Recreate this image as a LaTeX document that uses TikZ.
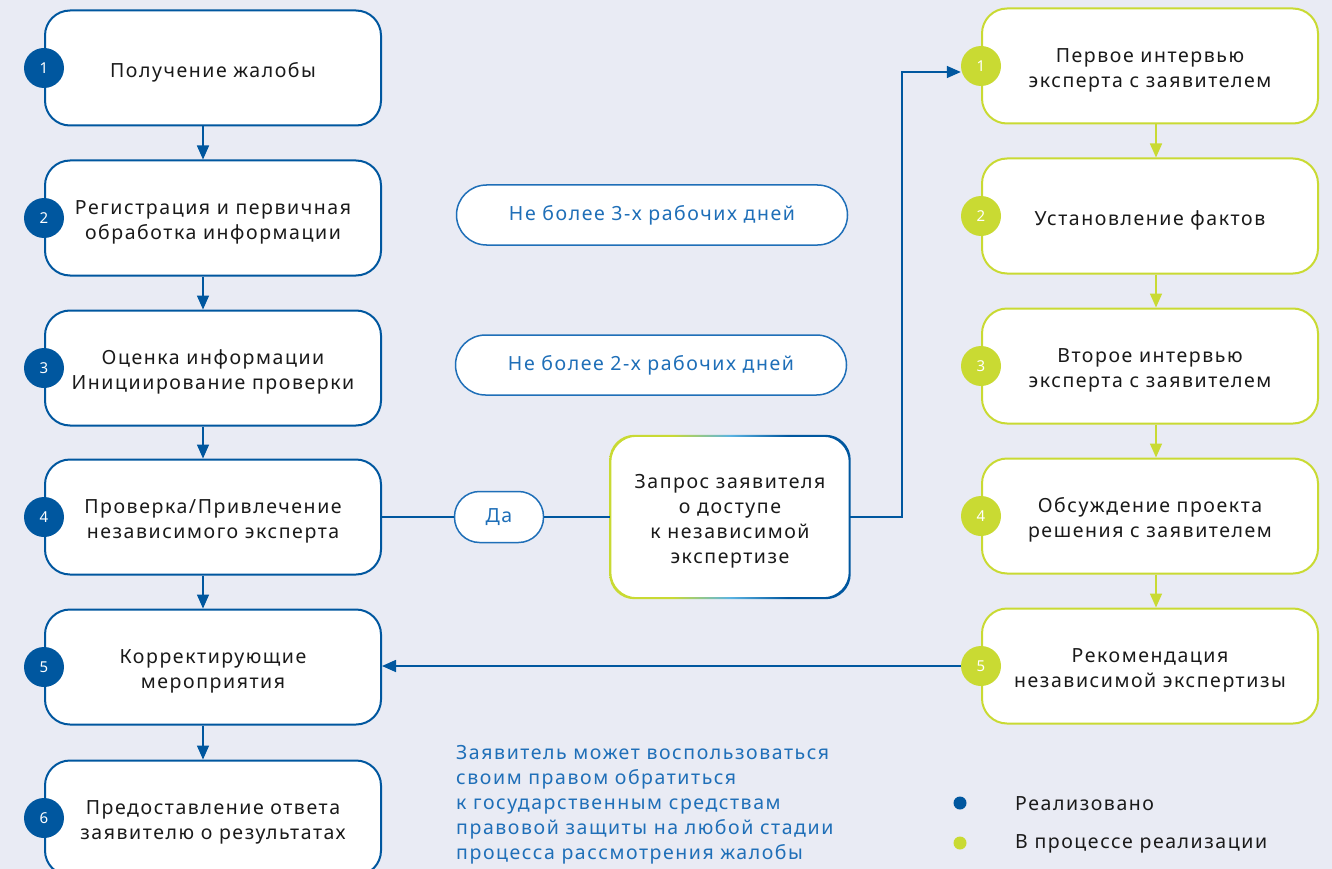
\documentclass[tikz,border=0pt]{standalone}
\usepackage{fontspec}
\setmainfont{Noto Sans}[LetterSpace=8]
\usetikzlibrary{arrows.meta,calc}
\definecolor{bg}{HTML}{E9EBF4}
\definecolor{dblue}{HTML}{00579F}
\definecolor{grn}{HTML}{C9DA33}
\definecolor{pblue}{HTML}{1F6FB8}
\definecolor{lblue}{HTML}{5BB4E2}
\definecolor{txt}{HTML}{1A1A1A}
\pgfdeclarehorizontalshading{gradborder}{100bp}{color(0bp)=(grn); color(38bp)=(grn); color(50bp)=(lblue); color(62bp)=(dblue); color(100bp)=(dblue)}
\begin{document}
\begin{tikzpicture}[x=1pt,y=-1pt,
  every node/.style={font=\fontsize{19.5}{25}\selectfont, text=txt},
  lbox/.style={rectangle, rounded corners=25pt, minimum width=336pt, minimum height=115pt, fill=white, draw=dblue, line width=2pt},
  rbox/.style={lbox, draw=grn},
  btext/.style={align=center, inner sep=0pt},
  lnum/.style={circle, minimum size=40pt, inner sep=0pt, fill=dblue, text=white, font=\fontsize{15}{18}\selectfont},
  rnum/.style={lnum, fill=grn},
  pill/.style={rectangle, rounded corners=30pt, minimum width=391pt, minimum height=60pt, fill=white, draw=pblue, line width=1.5pt, text=pblue},
  larr/.style={draw=dblue, line width=1.6pt, -{Triangle[length=14pt,width=12pt]}},
  rarr/.style={draw=grn, line width=1.6pt, -{Triangle[length=14pt,width=12pt]}},
  conn/.style={draw=dblue, line width=1.6pt}
]
\fill[bg] (0,0) rectangle (1332,869);
\useasboundingbox (0,0) rectangle (1332,869);

% left column
\node[lbox] (l1) at (213,68) {};
\node[lbox] (l2) at (213,218) {};
\node[lbox] (l3) at (213,368) {};
\node[lbox] (l4) at (213,517) {};
\node[lbox] (l5) at (213,667) {};
\node[lbox] (l6) at (213,818) {};
\node[btext] (lt1) at ([yshift=-4pt]l1.center) {Получение жалобы};
\node[btext] (lt2) at ([yshift=-4pt]l2.center) {Регистрация и первичная\\обработка информации};
\node[btext] (lt3) at ([yshift=-4pt]l3.center) {Оценка информации\\Инициирование проверки};
\node[btext] (lt4) at ([yshift=-4pt]l4.center) {Проверка/Привлечение\\независимого эксперта};
\node[btext] (lt5) at ([yshift=-4pt]l5.center) {Корректирующие\\мероприятия};
\node[btext] (lt6) at ([yshift=-4pt]l6.center) {Предоставление ответа\\заявителю о результатах};
\foreach \i in {1,...,6} {\node[lnum] (ln\i) at (l\i.west) {\i};}
\foreach \i/\j in {1/2,2/3,3/4,4/5,5/6} {\draw[larr] ([xshift=-10pt]l\i.south) -- ([xshift=-10pt]l\j.north);}

% right column
\node[rbox] (r1) at (1150,66) {};
\node[rbox] (r2) at (1150,216) {};
\node[rbox] (r3) at (1150,366) {};
\node[rbox] (r4) at (1150,516) {};
\node[rbox] (r5) at (1150,666) {};
\node[btext] (rt1) at ([yshift=-4pt]r1.center) {Первое интервью\\эксперта с заявителем};
\node[btext] (rt2) at ([yshift=-4pt]r2.center) {Установление фактов};
\node[btext] (rt3) at ([yshift=-4pt]r3.center) {Второе интервью\\эксперта с заявителем};
\node[btext] (rt4) at ([yshift=-4pt]r4.center) {Обсуждение проекта\\решения с заявителем};
\node[btext] (rt5) at ([yshift=-4pt]r5.center) {Рекомендация\\независимой экспертизы};
\foreach \i in {1,...,5} {\node[rnum] (rn\i) at (r\i.west) {\i};}
\foreach \i/\j in {1/2,2/3,3/4,4/5} {\draw[rarr] ([xshift=6pt]r\i.south) -- ([xshift=6pt]r\j.north);}

% middle
\node[pill] (p3) at (652,215) {Не более 3-х рабочих дней};
\node[pill] (p2) at (651,365) {Не более 2-х рабочих дней};
\node[pill, minimum width=89pt, minimum height=51pt, rounded corners=25pt] (da) at (499,517) {Да};

\node[rectangle, rounded corners=25pt, minimum width=239pt, minimum height=162pt, fill=white] (q) at (730,517) {};
\shade[shading=gradborder, even odd rule, rounded corners=25pt]
  ($(q.north west)+(-1,-1)$) rectangle ($(q.south east)+(1,1)$)
  ($(q.north west)+(1,1)$) rectangle ($(q.south east)+(-1,-1)$);
\node[btext] (qt) at ([yshift=-4pt]q.center) {Запрос заявителя\\о доступе\\к независимой\\экспертизе};

\draw[conn] (l4.east) -- (da.west);
\draw[conn] (da.east) -- (q.west);
\coordinate (turn) at ($(q.east)+(52,0)$);
\draw[larr] (q.east) -- (turn) |- ([yshift=-6pt]rn1.west);
\draw[larr] (rn5.west) -- (rn5.west -| l5.east);

% note
\node[anchor=north west, align=left, inner sep=0pt, text=pblue] (note) at (456,745) {Заявитель может воспользоваться\\своим правом обратиться\\к государственным средствам\\правовой защиты на любой стадии\\процесса рассмотрения жалобы};

% legend
\fill[dblue] (960,803) circle (6.5);
\node[anchor=west, inner sep=0pt] (lg1) at (1015,804) {Реализовано};
\fill[grn] (960,843) circle (6.5);
\node[anchor=west, inner sep=0pt] (lg2) at (1015,844) {В процессе реализации};
\end{tikzpicture}
\end{document}
